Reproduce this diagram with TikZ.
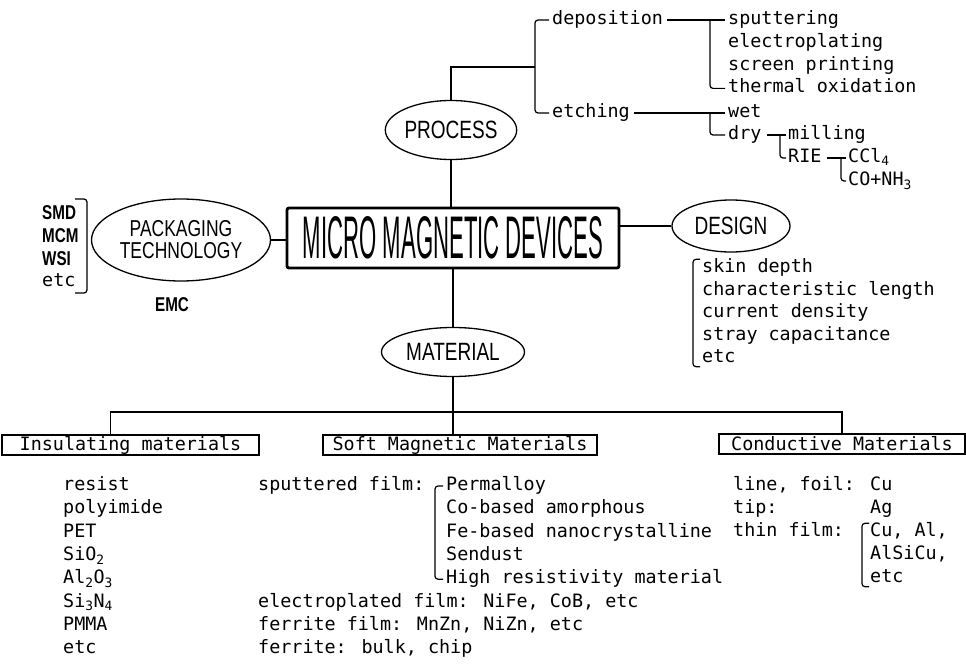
\documentclass[tikz,border=0pt]{standalone}
\usepackage{fontspec}
\usepackage{graphicx}
\usetikzlibrary{shapes.geometric}
\newfontfamily\listfont{DejaVu Sans Mono}
\newfontfamily\capsfont[FakeStretch=0.76]{Liberation Sans}

\tikzset{
  item/.style={anchor=west,inner sep=0pt,text height=13pt,text depth=4pt,
    font=\listfont\fontsize{18.4}{20}\selectfont},
  caps/.style={inner sep=0pt,font=\capsfont\bfseries\fontsize{20}{22}\selectfont},
  oval/.style={draw,ellipse,line width=1.3pt,inner sep=0pt,
    font=\capsfont\fontsize{25}{26}\selectfont},
  catbox/.style={draw,line width=1.4pt,inner sep=0pt,minimum height=20pt,
    font=\listfont\fontsize{18.4}{20}\selectfont},
  link/.style={line width=1.2pt},
  hook/.style={line width=1.2pt,rounded corners=3pt}
}

\begin{document}
\begin{tikzpicture}[x=1pt,y=-1pt]
  \fill[white] (0,0) rectangle (966,666);
  % --- centre and the four branches
  \node[draw,line width=2.8pt,rounded corners=2pt,minimum width=332pt,
    minimum height=60pt,inner sep=0pt] (mmd) at (453,238)
    {\resizebox{300pt}{42pt}{\capsfont MICRO MAGNETIC DEVICES}};
  \node[oval,minimum width=130pt,minimum height=59pt] (process) at (451,130) {PROCESS};
  \node[oval,minimum width=179pt,minimum height=82pt,align=center,
    font=\capsfont\fontsize{23}{22}\selectfont] (pack) at (181,240)
    {PACKAGING\\TECHNOLOGY};
  \node[oval,minimum width=118pt,minimum height=52pt] (design) at (731,226) {DESIGN};
  \node[oval,minimum width=143pt,minimum height=49pt] (material) at (453,352) {MATERIAL};
  \draw[link] (process.south) -- (process.south |- mmd.north);
  \draw[link] (mmd.south) -- (material.north);
  \draw[link] (pack.east) -- (pack.east -| mmd.west);
  \draw[link] (design.west) -- (design.west -| mmd.east);

  % --- process tree
  \node[item] (dep) at (552,20) {deposition};
  \node[item] (etch) at (552,113) {etching};
  \coordinate (pj) at (535,67);
  \draw[link] (process.north) |- (pj);
  \draw[hook] ([xshift=-3pt]dep.west) -| (pj) |- ([xshift=-3pt]etch.west);
  \foreach \t [count=\i] in {sputtering,electroplating,screen printing,thermal oxidation}
    \node[item] (dep\i) at (728,{20+22.8*(\i-1)}) {\t};
  \draw[link] ([xshift=4pt]dep.east) -- ([xshift=-3pt]dep1.west);
  \draw[hook] ([xshift=-18pt]dep1.west) |- ([xshift=-3pt]dep4.west);
  \node[item] (wet) at (728,113) {wet};
  \node[item] (dry) at (728,135) {dry};
  \draw[link] ([xshift=4pt]etch.east) -- ([xshift=-3pt]wet.west);
  \draw[hook] ([xshift=-18pt]wet.west) |- ([xshift=-3pt]dry.west);
  \node[item] (milling) at (788,135) {milling};
  \node[item] (rie) at (788,158) {RIE};
  \draw[link] ([xshift=5pt]dry.east) -- ([xshift=-2pt]milling.west);
  \draw[hook] ([xshift=-8pt]milling.west) |- ([xshift=-2pt]rie.west);
  \node[item] (ccl) at (848,158) {CCl\textsubscript{4}};
  \node[item] (conh) at (848,181) {CO+NH\textsubscript{3}};
  \draw[link] ([xshift=5pt]rie.east) -- ([xshift=-2pt]ccl.west);
  \draw[hook] ([xshift=-7pt]ccl.west) |- ([xshift=-2pt]conh.west);

  % --- packaging
  \foreach \t [count=\i] in {SMD,MCM,WSI}
    \node[caps,anchor=west] (pk\i) at (42,{213+23*(\i-1)}) {\t};
  \node[item] (pk4) at (42,282) {etc};
  \coordinate (pkt) at (87,199);
  \coordinate (pkb) at (87,293);
  \draw[hook] ([xshift=-12pt]pkt) -- (pkt) -- (pkb) -- ([xshift=-12pt]pkb);
  \node[caps] (emc) at (172,305) {EMC};

  % --- design
  \foreach \t [count=\i] in {skin depth,characteristic length,current density,stray capacitance,etc}
    \node[item] (dz\i) at (702,{268+22.5*(\i-1)}) {\t};
  \draw[hook] ([xshift=-2pt]dz1.north west) -| ([xshift=-9pt]dz5.south west)
    -- ([xshift=-2pt]dz5.south west);

  % --- material tree
  \node[catbox,minimum width=257pt] (ins) at (130.5,445) {Insulating materials};
  \node[catbox,minimum width=274pt] (soft) at (460,445) {Soft Magnetic Materials};
  \node[catbox,minimum width=246pt] (cond) at (842,444) {Conductive Materials};
  \coordinate (mj) at (453,412);
  \draw[link] (material.south) -- (material.south |- soft.north);
  \draw[link] ([xshift=-20pt]ins.north) |- (mj) -| (cond.north);

  \foreach \t [count=\i] in {resist,polyimide,PET,SiO\textsubscript{2},
      Al\textsubscript{2}O\textsubscript{3},Si\textsubscript{3}N\textsubscript{4},PMMA,etc}
    \node[item] (in\i) at (63,{486+23.3*(\i-1)}) {\t};

  \node[item] (sput) at (258,486) {sputtered film:};
  \foreach \t [count=\i] in {Permalloy,Co-based amorphous,Fe-based nanocrystalline,
      Sendust,High resistivity material}
    \node[item] (sm\i) at (446,{486+23.3*(\i-1)}) {\t};
  \draw[hook] ([xshift=-3pt]sm1.west) -| ([xshift=-11pt]sm5.west) -- ([xshift=-3pt]sm5.west);
  \node[item] (ep) at (258,602.5) {electroplated film: NiFe, CoB, etc};
  \node[item] (ff) at (258,625.8) {ferrite film: MnZn, NiZn, etc};
  \node[item] (fb) at (258,649.1) {ferrite: bulk, chip};

  \node[item] (cl1) at (733,486) {line, foil:};
  \node[item] (cl2) at (733,509) {tip:};
  \node[item] (cl3) at (733,532) {thin film:};
  \node[item] (cv1) at (870,486) {Cu};
  \node[item] (cv2) at (870,509) {Ag};
  \node[item] (cv3) at (870,532) {Cu, Al,};
  \node[item] (cv4) at (870,555) {AlSiCu,};
  \node[item] (cv5) at (870,578) {etc};
  \draw[hook] ([xshift=-1pt]cv3.north west) -| ([xshift=-8pt]cv5.south west)
    -- ([xshift=-1pt]cv5.south west);
\end{tikzpicture}
\end{document}
